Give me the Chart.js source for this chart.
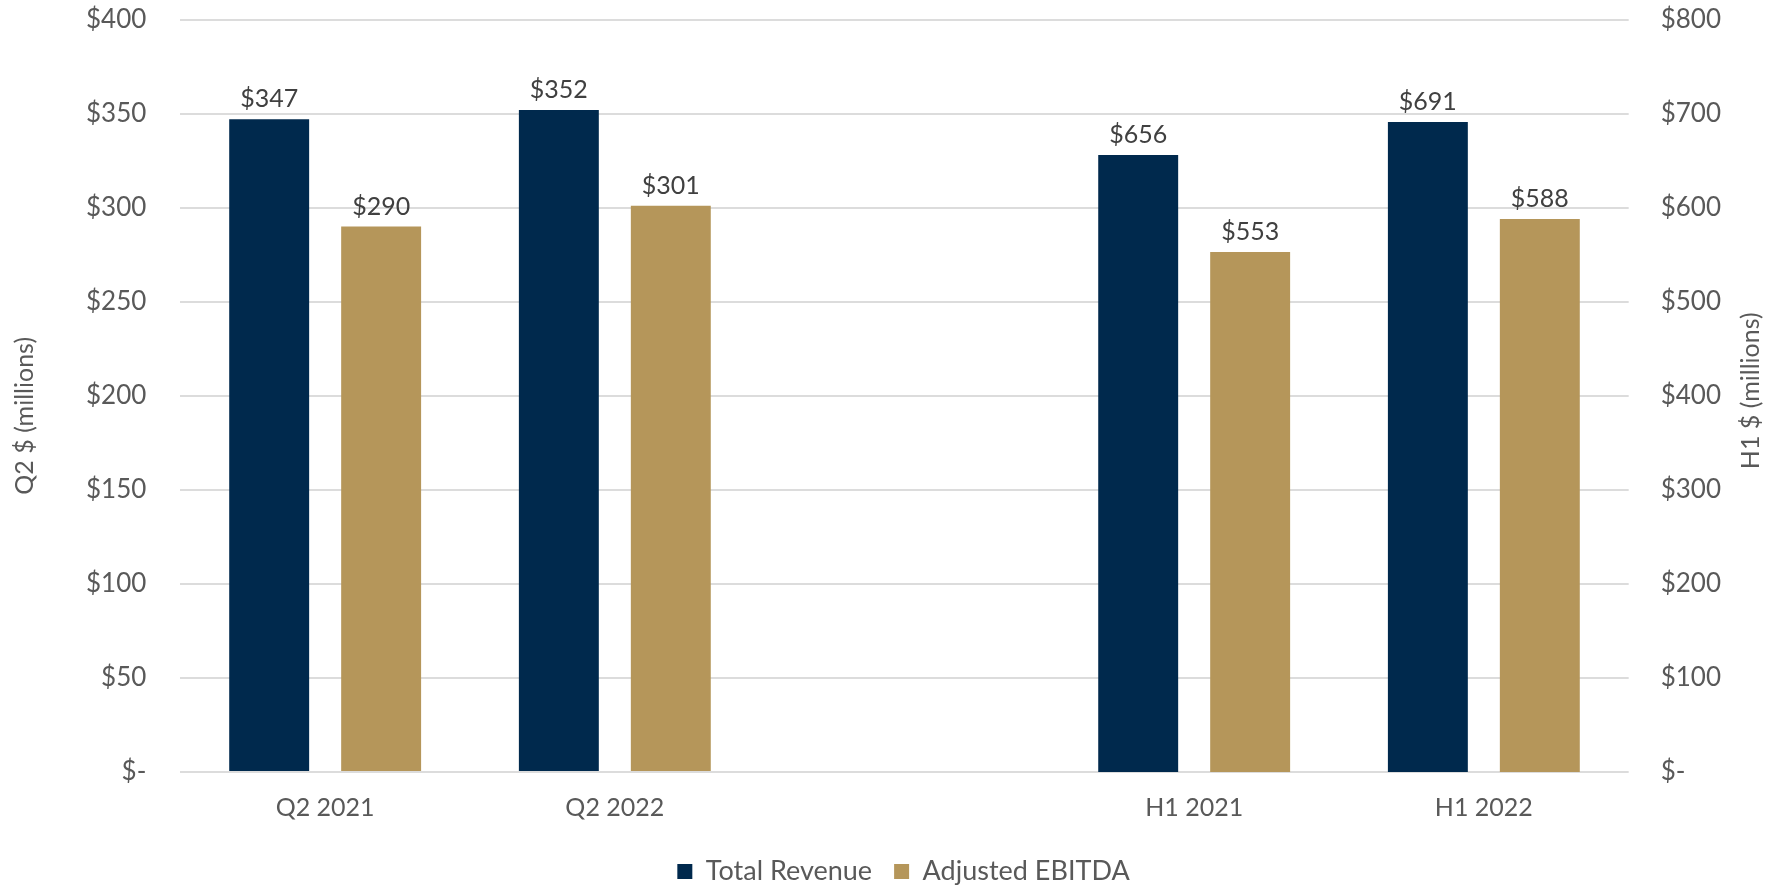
<!DOCTYPE html>
<html>
<head>
<meta charset="utf-8">
<script src="https://cdn.jsdelivr.net/npm/chart.js@4.4.0/dist/chart.umd.min.js"></script>
<style>
    html, body { margin: 0; padding: 0; background: #fff; }
    #wrap { width: 1767px; height: 885px; position: relative; }
</style>
</head>
<body>
<div id="wrap"><canvas id="chart"></canvas></div>
<script>
    // data
    var categories = ['Q2 2021', 'Q2 2022', '', 'H1 2021', 'H1 2022'];
    var q2Revenue = [347, 352, null, null, null];
    var q2Ebitda = [290, 301, null, null, null];
    var h1Revenue = [null, null, null, 656, 691];
    var h1Ebitda = [null, null, null, 553, 588];
    var q2AxisTicks = [0, 50, 100, 150, 200, 250, 300, 350, 400];
    var h1AxisTicks = [0, 100, 200, 300, 400, 500, 600, 700, 800];

    var NAVY = '#00294D';
    var GOLD = '#B5965A';
    var TEXT = '#595959';
    var FONT = 'Lato, "Open Sans", sans-serif';

    Chart.defaults.font.family = FONT;
    Chart.defaults.color = TEXT;

    function money(v) {
        return v === 0 ? '$-' : '$' + v;
    }

    // value labels above each bar
    var barLabels = {
        id: 'barLabels',
        afterDatasetsDraw: function(chart) {
            var ctx = chart.ctx;
            ctx.save();
            ctx.font = '25px ' + FONT;
            ctx.fillStyle = '#404040';
            ctx.textAlign = 'center';
            ctx.textBaseline = 'alphabetic';
            chart.data.datasets.forEach(function(ds, i) {
                var meta = chart.getDatasetMeta(i);
                meta.data.forEach(function(bar, j) {
                    if (ds.data[j] === null) return;
                    ctx.fillText('$' + ds.data[j], bar.x, bar.y - 12);
                });
            });
            ctx.restore();
        }
    };

    // both axis titles read bottom-to-top
    var axisTitles = {
        id: 'axisTitles',
        afterDraw: function(chart) {
            var ctx = chart.ctx;
            var area = chart.chartArea;
            var mid = (area.top + area.bottom) / 2;
            function vtext(txt, x, y) {
                ctx.save();
                ctx.translate(x, y);
                ctx.rotate(-Math.PI / 2);
                ctx.font = '25px ' + FONT;
                ctx.fillStyle = TEXT;
                ctx.textAlign = 'center';
                ctx.textBaseline = 'middle';
                ctx.fillText(txt, 0, 0);
                ctx.restore();
            }
            vtext('Q2 $ (millions)', 25, mid + 20);
            vtext('H1 $ (millions)', chart.width - 16, mid - 5);
        }
    };

    var ctx = document.getElementById('chart').getContext('2d');
    new Chart(ctx, {
        type: 'bar',
        data: {
            labels: categories,
            datasets: [
                { label: 'Total Revenue', data: q2Revenue, backgroundColor: NAVY, yAxisID: 'y' },
                { label: 'Adjusted EBITDA', data: q2Ebitda, backgroundColor: GOLD, yAxisID: 'y' },
                { label: 'Total Revenue', data: h1Revenue, backgroundColor: NAVY, yAxisID: 'y1' },
                { label: 'Adjusted EBITDA', data: h1Ebitda, backgroundColor: GOLD, yAxisID: 'y1' }
            ]
        },
        options: {
            responsive: true,
            maintainAspectRatio: false,
            animation: false,
            skipNull: true,
            categoryPercentage: 0.773,
            barPercentage: 0.714,
            layout: { padding: { top: 0, left: 82, right: 42, bottom: -10 } },
            plugins: {
                tooltip: { enabled: false },
                legend: {
                    position: 'bottom',
                    labels: {
                        boxWidth: 15,
                        boxHeight: 15,
                        padding: 22,
                        color: TEXT,
                        font: { size: 27 },
                        filter: function(item) { return item.datasetIndex < 2; }
                    }
                }
            },
            scales: {
                x: {
                    grid: { display: false, drawTicks: false },
                    border: { display: false },
                    ticks: { font: { size: 25 }, color: TEXT, padding: 21, maxRotation: 0 },
                    afterFit: function(axis) { axis.height -= 8; }
                },
                y: {
                    position: 'left',
                    min: 0,
                    max: 400,
                    afterBuildTicks: function(axis) {
                        axis.ticks = q2AxisTicks.map(function(v) { return { value: v }; });
                    },
                    grid: { color: '#DCDCDC', lineWidth: 2, drawTicks: true, tickLength: 30, tickColor: 'rgba(0,0,0,0)' },
                    border: { display: false },
                    ticks: { font: { size: 26 }, color: TEXT, padding: 4, callback: money }
                },
                y1: {
                    position: 'right',
                    min: 0,
                    max: 800,
                    afterBuildTicks: function(axis) {
                        axis.ticks = h1AxisTicks.map(function(v) { return { value: v }; });
                    },
                    grid: { display: false, drawTicks: true, tickLength: 28 },
                    border: { display: false },
                    ticks: { font: { size: 26 }, color: TEXT, padding: 4, callback: money }
                }
            }
        },
        plugins: [barLabels, axisTitles]
    });
</script>
</body>
</html>
